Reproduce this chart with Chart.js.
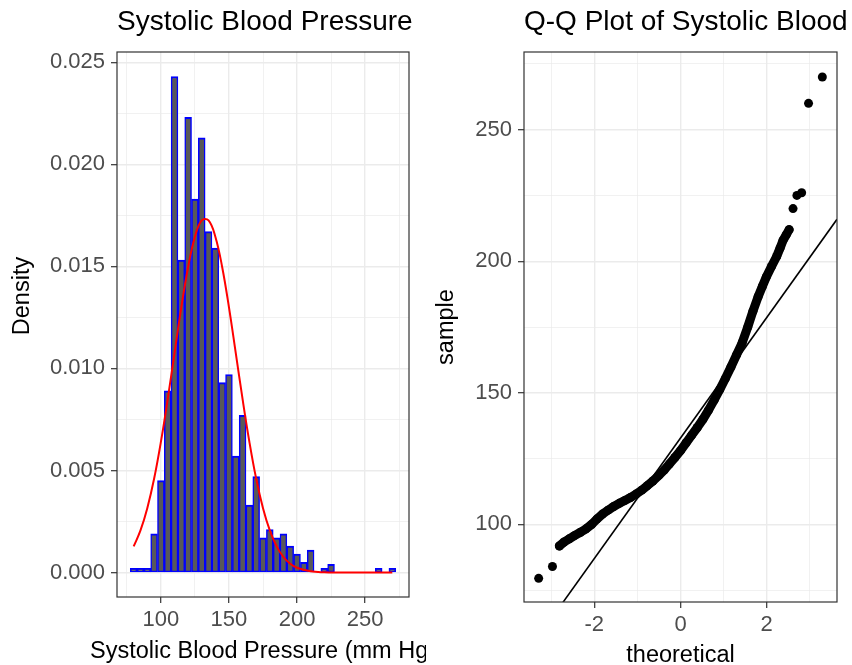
<!DOCTYPE html>
<html>
<head>
<meta charset="utf-8">
<title>Systolic Blood Pressure</title>
<script src="https://cdn.jsdelivr.net/npm/chart.js@4.4.1/dist/chart.umd.min.js"></script>
<style>
  html, body { margin: 0; padding: 0; background: #fff; }
  #wrap { position: relative; width: 852px; height: 665px; overflow: hidden; }
  .panel { position: absolute; top: 0; width: 426px; height: 665px; }
  #histPanel { left: 0; }
  #qqPanel { left: 426px; }
</style>
</head>
<body>
<div id="wrap">
  <div class="panel" id="histPanel"><canvas id="histChart" width="426" height="665"></canvas></div>
  <div class="panel" id="qqPanel"><canvas id="qqChart" width="426" height="665"></canvas></div>
</div>
<script>
// ---- left panel: histogram (binwidth 5, density scale) ----
const binCenters = [
  80, 85, 90, 95, 100, 105, 110, 115, 120, 125,
  130, 135, 140, 145, 150, 155, 160, 165, 170, 175,
  180, 185, 190, 195, 200, 205, 210, 215, 220, 225,
  230, 235, 240, 245, 250, 255, 260, 265, 270
];
const binDensity = [
  0.0002, 0.0002, 0.0002, 0.0019, 0.0045, 0.0089, 0.0243, 0.0153, 0.0223, 0.0183,
  0.0213, 0.0167, 0.0159, 0.0093, 0.0097, 0.0057, 0.0077, 0.0033, 0.0047, 0.0017,
  0.0021, 0.0017, 0.0019, 0.0013, 0.0009, 0.0005, 0.0011, 0, 0.0002, 0.0004,
  0, 0, 0, 0, 0, 0, 0.0002, 0, 0.0002
];
// fitted normal density (red curve)
const normX = [
  80, 85, 90, 95, 100, 105, 110, 115, 120, 125, 130, 135, 140, 145, 150, 155,
  160, 165, 170, 175, 180, 185, 190, 195, 200, 210, 220, 230, 240, 250, 260, 270
];
const normY = [
  0.00128, 0.00206, 0.00315, 0.00459, 0.00640, 0.00849, 0.01075, 0.01299,
  0.01497, 0.01645, 0.01725, 0.01725, 0.01645, 0.01497, 0.01299, 0.01075,
  0.00849, 0.00640, 0.00459, 0.00315, 0.00206, 0.00128, 0.00076, 0.00043,
  0.00023, 0.00006, 0.00001, 0, 0, 0, 0, 0
];
const histXMajor  = [100, 150, 200, 250];
const histXLabels = ['100', '150', '200', '250'];
const histXMinor  = [75, 125, 175, 225, 275];
const histYMajor  = [0, 0.005, 0.01, 0.015, 0.02, 0.025];
const histYLabels = ['0.000', '0.005', '0.010', '0.015', '0.020', '0.025'];
const histYMinor  = [0.0025, 0.0075, 0.0125, 0.0175, 0.0225];

// ---- right panel: normal Q-Q plot ----
const qqBandT = [
  -2.81, -2.70, -2.58, -2.45, -2.32, -2.19, -2.06, -1.94, -1.81, -1.68,
  -1.55, -1.42, -1.29, -1.16, -1.03, -0.90, -0.77, -0.64, -0.51, -0.38,
  -0.26, -0.13, 0.00, 0.13, 0.26, 0.39, 0.52, 0.65, 0.78, 0.91,
  1.04, 1.17, 1.30, 1.43, 1.56, 1.68, 1.80, 1.90, 1.99, 2.11,
  2.23, 2.31, 2.38, 2.45, 2.52
];
const qqBandS = [
  91.8, 93.3, 94.5, 95.8, 97.0, 98.3, 100.0, 102.0, 103.9, 105.4,
  106.8, 108.0, 109.1, 110.2, 111.5, 113.0, 114.7, 116.5, 118.5, 120.6,
  122.9, 125.4, 128.0, 131.0, 133.9, 136.8, 139.9, 143.4, 147.2, 151.2,
  155.4, 159.8, 164.4, 169.0, 175.0, 181.0, 186.5, 190.5, 194.0, 198.0,
  201.8, 205.0, 208.0, 210.0, 212.0
];
const qqTailT = [-3.29, -2.97, 2.61, 2.70, 2.81, 2.97, 3.29];
const qqTailS = [79.5, 84.0, 220.0, 225.0, 226.0, 260.0, 270.0];
const qqLineIntercept = 132.8;   // sample mean
const qqLineSlope     = 22.9;    // sample sd
const qqXMajor  = [-2, 0, 2];
const qqXLabels = ['-2', '0', '2'];
const qqXMinor  = [-3, -1, 1, 3];
const qqYMajor  = [100, 150, 200, 250];
const qqYLabels = ['100', '150', '200', '250'];
const qqYMinor  = [75, 125, 175, 225, 275];

// ---- shared look (ggplot theme_bw) ----
const fontFamily = '"Liberation Sans", Arial, Helvetica, sans-serif';
const gridColor  = '#EBEBEB';
const frameColor = '#333333';
const tickText   = '#4D4D4D';

Chart.defaults.font.family = fontFamily;

function makeAxis(min, max, major, labels, minor, size, horizontal) {
  const all = major.concat(minor).sort((a, b) => a - b);
  const isMajor = c => c.tick && major.includes(c.tick.value);
  return {
    type: 'linear',
    min: min,
    max: max,
    offset: false,
    afterBuildTicks: s => { s.ticks = all.map(v => ({ value: v })); },
    afterFit: s => { if (horizontal) s.height = size; else s.width = size; },
    grid: {
      offset: false,
      color: gridColor,
      lineWidth: c => isMajor(c) ? 1.4 : 0.7,
      tickColor: c => isMajor(c) ? frameColor : 'rgba(0,0,0,0)',
      tickLength: 6,
      tickWidth: 1.2
    },
    border: { display: false },
    ticks: {
      autoSkip: false,
      maxRotation: 0,
      minRotation: 0,
      padding: horizontal ? 4 : 6,
      color: tickText,
      font: { size: 22 },
      callback: v => { const i = major.indexOf(v); return i >= 0 ? labels[i] : ''; }
    }
  };
}

// panel border on top of the data
const panelFrame = {
  id: 'panelFrame',
  afterDatasetsDraw(chart) {
    const { ctx, chartArea: a } = chart;
    ctx.save();
    ctx.strokeStyle = frameColor;
    ctx.lineWidth = 1.2;
    ctx.strokeRect(a.left, a.top, a.right - a.left, a.bottom - a.top);
    ctx.restore();
  }
};

// plot title (left aligned) and axis titles, not squeezed, clipped by the canvas
const panelText = {
  id: 'panelText',
  afterDraw(chart, args, o) {
    const { ctx, chartArea: a } = chart;
    ctx.save();
    ctx.fillStyle = '#000';
    ctx.textBaseline = 'alphabetic';
    ctx.font = '28px ' + fontFamily;
    ctx.textAlign = 'left';
    ctx.fillText(o.title, a.left, o.titleY);
    ctx.font = '23.5px ' + fontFamily;
    ctx.textAlign = 'center';
    ctx.fillText(o.xTitle, (a.left + a.right) / 2, o.xTitleY);
    ctx.translate(o.yTitleX, o.yTitleY);
    ctx.rotate(-Math.PI / 2);
    ctx.fillText(o.yTitle, 0, 0);
    ctx.restore();
  }
};

const baseOptions = {
  responsive: false,
  animation: false,
  events: [],
  plugins: { legend: { display: false }, tooltip: { enabled: false } }
};

// Histogram + normal curve
new Chart(document.getElementById('histChart'), {
  type: 'bar',
  data: {
    datasets: [
      {
        type: 'line',
        order: 0,
        data: normX.map((x, i) => ({ x: x, y: normY[i] })),
        borderColor: '#FF0000',
        borderWidth: 2,
        pointRadius: 0,
        tension: 0.4,
        fill: false
      },
      {
        type: 'bar',
        order: 1,
        data: binCenters.map((x, i) => ({ x: x, y: binDensity[i] })),
        backgroundColor: '#595959',
        borderColor: '#0000FF',
        borderWidth: { top: 2, left: 1.5, right: 1.5, bottom: 1.5 },
        borderSkipped: false,
        barPercentage: 1,
        categoryPercentage: 1
      }
    ]
  },
  options: {
    ...baseOptions,
    layout: { padding: { top: 52, right: 17, bottom: 0, left: 0 } },
    scales: {
      x: makeAxis(67.75, 282.25, histXMajor, histXLabels, histXMinor, 68, true),
      y: makeAxis(-0.0012, 0.0255, histYMajor, histYLabels, histYMinor, 117, false)
    },
    plugins: {
      ...baseOptions.plugins,
      panelText: {
        title: 'Systolic Blood Pressure',
        titleY: 30,
        xTitle: 'Systolic Blood Pressure (mm Hg)',
        xTitleY: 658,
        yTitle: 'Density',
        yTitleX: 29,
        yTitleY: 296
      }
    }
  },
  plugins: [panelFrame, panelText]
});

// Q-Q plot
const qqXMin = -3.63, qqXMax = 3.63;
new Chart(document.getElementById('qqChart'), {
  type: 'scatter',
  data: {
    datasets: [
      {
        order: 0,
        showLine: true,
        data: [qqXMin, qqXMax].map(t => ({ x: t, y: qqLineIntercept + qqLineSlope * t })),
        borderColor: '#000',
        borderWidth: 1.6,
        pointRadius: 0
      },
      {
        order: 1,
        showLine: true,
        data: qqBandT.map((t, i) => ({ x: t, y: qqBandS[i] })),
        borderColor: '#000',
        borderWidth: 9,
        borderCapStyle: 'round',
        borderJoinStyle: 'round',
        pointRadius: 4.5,
        pointBorderWidth: 0,
        pointBackgroundColor: '#000'
      },
      {
        order: 2,
        data: qqTailT.map((t, i) => ({ x: t, y: qqTailS[i] })),
        pointRadius: 4.5,
        pointBorderWidth: 0,
        pointBackgroundColor: '#000'
      }
    ]
  },
  options: {
    ...baseOptions,
    layout: { padding: { top: 52, right: 15, bottom: 0, left: 0 } },
    scales: {
      x: makeAxis(qqXMin, qqXMax, qqXMajor, qqXLabels, qqXMinor, 63, true),
      y: makeAxis(70.5, 279.5, qqYMajor, qqYLabels, qqYMinor, 98, false)
    },
    plugins: {
      ...baseOptions.plugins,
      panelText: {
        title: 'Q-Q Plot of Systolic Blood Pressure',
        titleY: 30,
        xTitle: 'theoretical',
        xTitleY: 662,
        yTitle: 'sample',
        yTitleX: 27,
        yTitleY: 327
      }
    }
  },
  plugins: [panelFrame, panelText]
});
</script>
</body>
</html>
